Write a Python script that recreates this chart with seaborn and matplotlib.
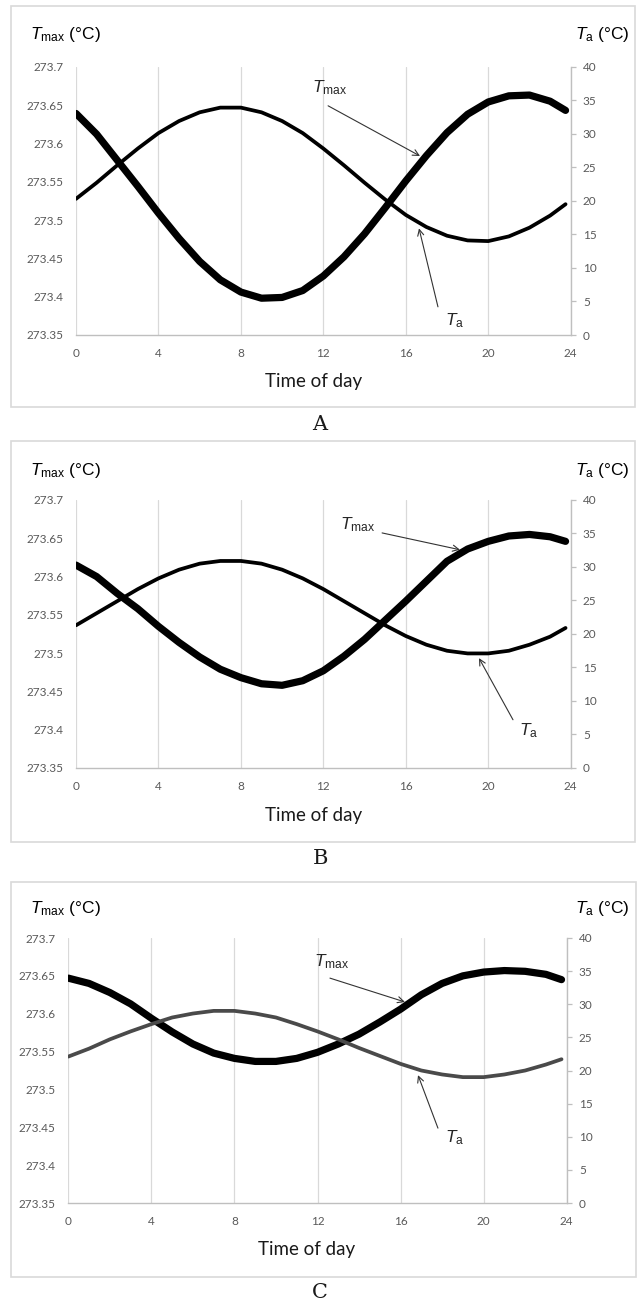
import matplotlib
matplotlib.use("Agg")
import matplotlib.pyplot as plt
import seaborn as sns
from matplotlib.patches import Rectangle

# ---------------- data ----------------
hours = [0, 1, 2, 3, 4, 5, 6, 7, 8, 9, 10, 11, 12, 13, 14, 15, 16, 17, 18, 19, 20, 21, 22, 23, 23.75]

tmax_a = [273.639, 273.612, 273.578, 273.544, 273.509, 273.476, 273.446, 273.422, 273.406, 273.398,
          273.399, 273.408, 273.427, 273.452, 273.482, 273.516, 273.551, 273.584, 273.614, 273.638,
          273.654, 273.662, 273.663, 273.655, 273.643]
ta_a = [20.3, 22.7, 25.3, 27.8, 30.1, 31.9, 33.2, 33.9, 33.9, 33.2, 31.9, 30.1, 27.8, 25.3, 22.7,
        20.2, 17.9, 16.1, 14.8, 14.1, 14.0, 14.7, 16.0, 17.8, 19.5]

tmax_b = [273.615, 273.600, 273.578, 273.558, 273.535, 273.514, 273.495, 273.479, 273.468, 273.460,
          273.458, 273.464, 273.477, 273.496, 273.518, 273.543, 273.568, 273.594, 273.620, 273.636,
          273.646, 273.653, 273.655, 273.652, 273.646]
ta_b = [21.3, 23.1, 24.9, 26.7, 28.3, 29.6, 30.5, 30.9, 30.9, 30.5, 29.6, 28.3, 26.7, 24.9, 23.1,
        21.3, 19.7, 18.4, 17.5, 17.1, 17.1, 17.5, 18.4, 19.6, 20.9]

tmax_c = [273.647, 273.640, 273.628, 273.613, 273.594, 273.576, 273.560, 273.548, 273.541, 273.537,
          273.537, 273.541, 273.549, 273.560, 273.573, 273.589, 273.606, 273.625, 273.640, 273.650,
          273.655, 273.657, 273.656, 273.652, 273.645]
ta_c = [22.1, 23.3, 24.7, 25.9, 27.0, 28.0, 28.6, 29.0, 29.0, 28.6, 28.0, 27.0, 25.9, 24.7, 23.4,
        22.2, 21.0, 20.0, 19.4, 19.0, 19.0, 19.4, 20.0, 20.9, 21.7]

x_ticks = [0, 4, 8, 12, 16, 20, 24]
left_ticks = [273.35, 273.4, 273.45, 273.5, 273.55, 273.6, 273.65, 273.7]
left_labels = ["273.35", "273.4", "273.45", "273.5", "273.55", "273.6", "273.65", "273.7"]
right_ticks = [0, 5, 10, 15, 20, 25, 30, 35, 40]
panel_letters = ["A", "B", "C"]
xlabel = "Time of day"

# ---------------- style ----------------
sns.set_style("white")
plt.rcParams["font.family"] = ["Liberation Sans", "DejaVu Sans"]
plt.rcParams["mathtext.fontset"] = "custom"
plt.rcParams["mathtext.rm"] = "Liberation Sans"
plt.rcParams["mathtext.it"] = "Liberation Sans:italic"

W, H = 639, 1301
fig = plt.figure(figsize=(W / 100, H / 100), dpi=100)

TICK_C = "#595959"
GRID_C = "#d9d9d9"
SPINE_C = "#bfbfbf"


def fx(x):
    return x / W


def fy(y):
    return 1 - y / H


panels = [
    dict(tmax=tmax_a, ta=ta_a, ta_color="black",
         ax_px=(76, 570.7, 66.7, 335), frame=(11, 635, 6, 407),
         top_base=39, xlab=(314, 382), letter=(320, 425),
         tmax_text=(11.45, 273.667), tmax_tail=(12.23, 273.649), tmax_tip=(16.69, 273.5835),
         ta_text=(17.9, 1.5), ta_tail=(17.56, 4.2), ta_tip=(16.64, 15.9)),
    dict(tmax=tmax_b, ta=ta_b, ta_color="black",
         ax_px=(76, 570.7, 500, 768), frame=(11, 635, 441, 842),
         top_base=475, xlab=(314, 815), letter=(320, 858),
         tmax_text=(12.81, 273.662), tmax_tail=(14.85, 273.657), tmax_tip=(18.63, 273.635),
         ta_text=(21.5, 4.9), ta_tail=(21.2, 7.2), ta_tip=(19.55, 16.4)),
    dict(tmax=tmax_c, ta=ta_c, ta_color="#4a4a4a",
         ax_px=(68.3, 566.7, 938, 1203), frame=(11, 636, 882, 1277),
         top_base=913, xlab=(307, 1250), letter=(320, 1293),
         tmax_text=(11.83, 273.662), tmax_tail=(12.6, 273.647), tmax_tip=(16.21, 273.6155),
         ta_text=(18.14, 9.2), ta_tail=(17.8, 11.3), ta_tip=(16.84, 19.3)),
]

for i, p in enumerate(panels):
    # outer frame
    fx0, fx1, fy0, fy1 = p["frame"]
    fig.patches.append(Rectangle((fx(fx0), fy(fy1)), (fx1 - fx0) / W, (fy1 - fy0) / H,
                                 transform=fig.transFigure, fill=False,
                                 edgecolor="#d9d9d9", linewidth=1.2))

    x0, x1, y0, y1 = p["ax_px"]
    ax = fig.add_axes([fx(x0), fy(y1), (x1 - x0) / W, (y1 - y0) / H])
    ax2 = ax.twinx()

    sns.lineplot(x=hours, y=p["tmax"], ax=ax, color="black", linewidth=5.2,
                 solid_capstyle="round", solid_joinstyle="round", zorder=3)
    sns.lineplot(x=hours, y=p["ta"], ax=ax2, color=p["ta_color"], linewidth=2.7,
                 solid_capstyle="round", solid_joinstyle="round", zorder=3)

    ax.set_xlim(0, 24)
    ax.set_ylim(273.35, 273.7)
    ax2.set_ylim(0, 40)
    ax.set_xticks(x_ticks)
    ax.set_yticks(left_ticks)
    ax.set_yticklabels(left_labels)
    ax2.set_yticks(right_ticks)

    ax.grid(False)
    ax2.grid(False)
    ax.xaxis.grid(True, color=GRID_C, linewidth=0.9)

    for s in ["left", "top", "right"]:
        ax.spines[s].set_visible(False)
    ax.spines["bottom"].set_color(SPINE_C)
    ax.spines["bottom"].set_linewidth(1.0)
    for s in ["left", "top", "bottom"]:
        ax2.spines[s].set_visible(False)
    ax2.spines["right"].set_color(SPINE_C)
    ax2.spines["right"].set_linewidth(1.0)

    ax.tick_params(axis="x", length=0, pad=9.5, labelsize=8.5, labelcolor=TICK_C)
    ax.tick_params(axis="y", length=0, pad=9.0, labelsize=8.5, labelcolor=TICK_C)
    ax2.tick_params(axis="y", length=3.8, width=0.9, color=SPINE_C, pad=5,
                    labelsize=8.5, labelcolor=TICK_C)
    for lab in ax.get_xticklabels() + ax.get_yticklabels() + ax2.get_yticklabels():
        lab.set_fontfamily("Lato")
    ax.set_xlabel("")
    ax.set_ylabel("")
    ax2.set_ylabel("")

    # axis titles
    fig.text(fx(30), fy(p["top_base"]), r"$T_{\rm max}$ (°C)", ha="left", va="baseline",
             fontsize=12.5, color="black")
    fig.text(fx(630), fy(p["top_base"]), r"$T_{\rm a}$ (°C)", ha="right", va="baseline",
             fontsize=12.5, color="black")
    fig.text(fx(p["xlab"][0]), fy(p["xlab"][1]), xlabel, ha="center", va="center",
             fontsize=13.5, family="Lato", color="#1a1a1a")
    fig.text(fx(p["letter"][0]), fy(p["letter"][1]), panel_letters[i], ha="center",
             va="center", fontsize=15, family="DejaVu Serif", color="#1a1a1a")

    # annotations
    arrow_kw = dict(arrowstyle="->", color="#333333", lw=0.8, mutation_scale=11,
                    shrinkA=0, shrinkB=0)
    ax2.text(*p["ta_text"], r"$T_{\rm a}$", ha="left", va="baseline", fontsize=12.5,
             transform=ax2.transData)
    ax2.annotate("", xy=p["ta_tip"], xytext=p["ta_tail"], arrowprops=arrow_kw)
    ax2.annotate(r"$T_{\rm max}$", xy=p["tmax_text"], xycoords=ax.transData,
                 ha="left", va="baseline", fontsize=12.5)
    ax2.annotate("", xy=p["tmax_tip"], xycoords=ax.transData,
                 xytext=p["tmax_tail"], textcoords=ax.transData, arrowprops=arrow_kw)

fig.savefig("out.png", dpi=100)
